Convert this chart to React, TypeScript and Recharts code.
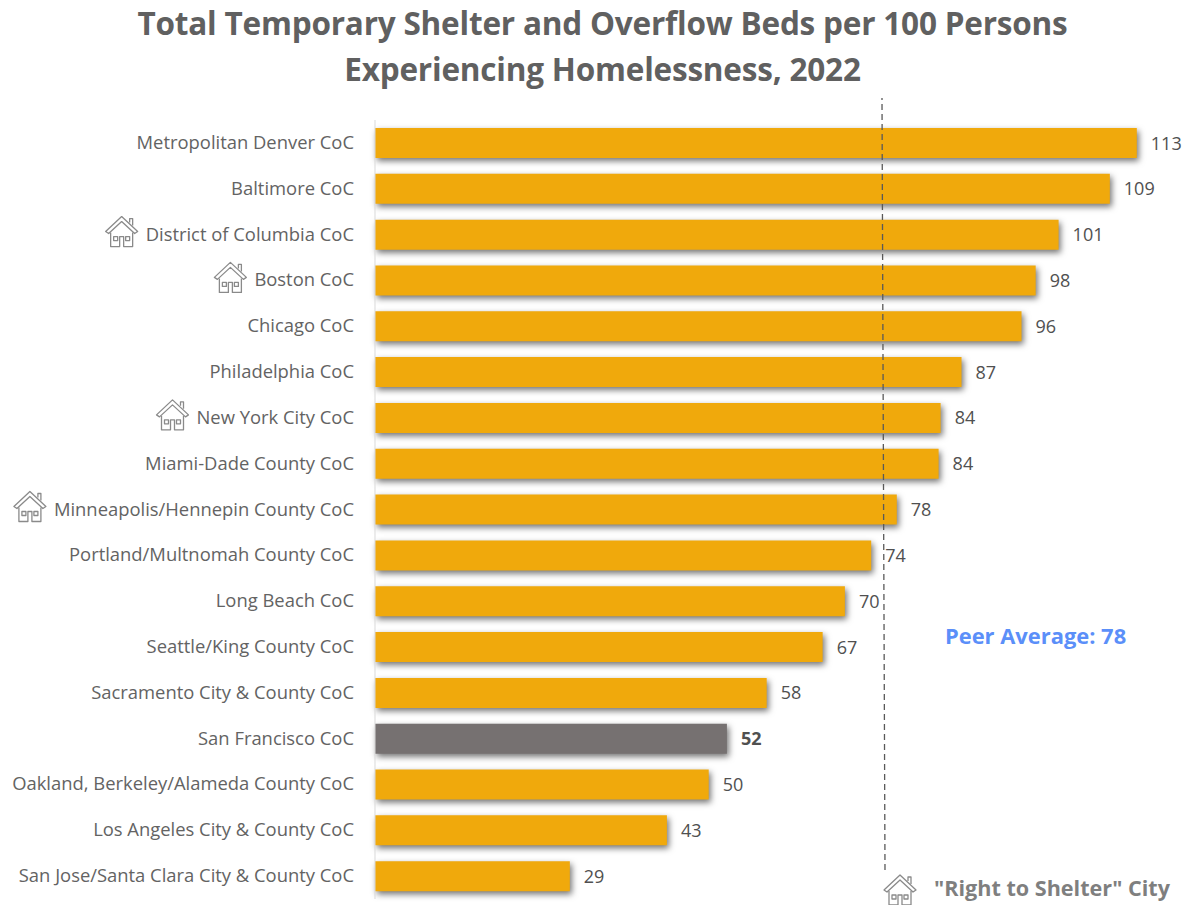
import React from "react";
import { BarChart, Bar, XAxis, YAxis, Cell, LabelList, ReferenceLine } from "recharts";

const titleLines = ["Total Temporary Shelter and Overflow Beds per 100 Persons", "Experiencing Homelessness, 2022"];
const categories = [
  "Metropolitan Denver CoC", "Baltimore CoC", "District of Columbia CoC", "Boston CoC", "Chicago CoC",
  "Philadelphia CoC", "New York City CoC", "Miami-Dade County CoC", "Minneapolis/Hennepin County CoC",
  "Portland/Multnomah County CoC", "Long Beach CoC", "Seattle/King County CoC", "Sacramento City & County CoC",
  "San Francisco CoC", "Oakland, Berkeley/Alameda County CoC", "Los Angeles City & County CoC",
  "San Jose/Santa Clara City & County CoC",
];
const values = [113, 109, 101.4, 98, 95.9, 87, 83.9, 83.6, 77.4, 73.6, 69.7, 66.4, 58.1, 52.2, 49.5, 43.3, 28.9];
const labels = [113, 109, 101, 98, 96, 87, 84, 84, 78, 74, 70, 67, 58, 52, 50, 43, 29];
const rightToShelter = ["District of Columbia CoC", "Boston CoC", "New York City CoC", "Minneapolis/Hennepin County CoC"];
const highlighted = "San Francisco CoC";
const peerLineValue = 75.5;
const peerText = "Peer Average: 78";
const legendText = "\"Right to Shelter\" City";

const data = categories.map((name, i) => ({ name, value: values[i], label: labels[i] }));

const FONT = "'Open Sans', sans-serif";
const TICK_SIZE = 18.4;
const measure = (t: string) => {
  const c = document.createElement("canvas").getContext("2d")!;
  c.font = `${TICK_SIZE}px 'Open Sans'`;
  return c.measureText(t).width;
};

const House = ({ x, y, size = 34 }: { x: number; y: number; size?: number }) => (
  <g transform={`translate(${x},${y}) scale(${size / 34})`} fill="none" stroke="#8a8a8a" strokeWidth={1.3} strokeLinejoin="round">
    <path d="M1 17 L17 2 L33 17 L30 19 L17 7 L4 19 Z" />
    <path d="M25 8 V4 H28 V11" />
    <path d="M6 18 V32 H15 V22 H19 V32 H28 V18" />
    <rect x="9" y="22" width="4" height="4" />
    <rect x="21" y="22" width="4" height="4" />
  </g>
);

const Tick = (p: any) => {
  const t = p.payload.value as string;
  const has = rightToShelter.includes(t);
  return (
    <g>
      {has && <House x={p.x - measure(t) - 41} y={p.y - 20} />}
      <text x={p.x} y={p.y} dy={6} textAnchor="end" fontFamily={FONT} fontSize={TICK_SIZE} fill="#636363">{t}</text>
    </g>
  );
};

const BarLabel = (p: any) => {
  const bold = categories[p.index] === highlighted;
  return (
    <text x={p.x + p.width + 14} y={p.y + p.height / 2} dy={6.5} fontFamily={FONT} fontSize={18}
      fontWeight={bold ? 700 : 400} fill="#505050">{p.value}</text>
  );
};

const PeerLine = (p: any) => (
  <line x1={p.x1 + 1} y1={p.y1 - 29} x2={p.x2 - 2} y2={p.y2} stroke="#595959" strokeWidth={1.3} strokeDasharray="6 4" />
);
const AxisLine = (p: any) => (
  <line x1={p.x1} y1={p.y1} x2={p.x2} y2={p.y2 + 22} stroke="#d9d9d9" strokeWidth={1} />
);

export default function App() {
  return (
    <div style={{ position: "absolute", left: 0, top: 0, width: 1186, height: 905, background: "#fff", overflow: "hidden" }}>
      <div style={{ position: "absolute", left: 0, top: 0, width: 1205, textAlign: "center", fontFamily: FONT, fontWeight: 700, fontSize: 31.5, lineHeight: "46px", color: "#606060", letterSpacing: -0.2 }}>
        {titleLines.map((l) => <div key={l}>{l}</div>)}
      </div>
      <BarChart width={1186} height={905} data={data} layout="vertical" barSize={30}
        margin={{ top: 98, right: 2, bottom: 6, left: 0 }}>
        <XAxis type="number" hide domain={[0, 120]} />
        <YAxis type="category" dataKey="name" width={375} padding={{ top: 22, bottom: 0 }} axisLine={false}
          tickLine={false} tickSize={0} tickMargin={21} tick={<Tick />} interval={0} />
        <Bar dataKey="value" isAnimationActive={false} fill="#F0A90C">
          {data.map((d) => (
            <Cell key={d.name} fill={d.name === highlighted ? "#767171" : "#F0A90C"}
              style={{ filter: "drop-shadow(2px 3px 3px rgba(0,0,0,0.55))" }} />
          ))}
          <LabelList dataKey="label" content={<BarLabel />} />
        </Bar>
        <ReferenceLine x={0} shape={<AxisLine />} />
        <ReferenceLine x={peerLineValue} shape={<PeerLine />} />
      </BarChart>
      <div style={{ position: "absolute", left: 945, top: 621, fontFamily: FONT, fontWeight: 700, fontSize: 21.9, lineHeight: "30px", color: "#5B8FF9", whiteSpace: "nowrap" }}>{peerText}</div>
      <svg style={{ position: "absolute", left: 882, top: 872 }} width={36} height={34}><House x={1} y={1} /></svg>
      <div style={{ position: "absolute", left: 934, top: 873, fontFamily: FONT, fontWeight: 700, fontSize: 21.6, lineHeight: "30px", color: "#7f7f7f", whiteSpace: "nowrap" }}>{legendText}</div>
    </div>
  );
}
